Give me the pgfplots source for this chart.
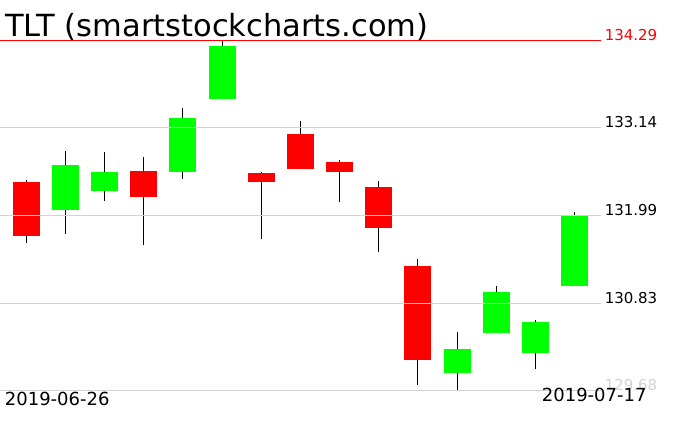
\documentclass[border=0pt]{standalone}
\usepackage{pgfplots}
\pgfplotsset{compat=1.18}
\usepackage{fontspec}
\setmainfont{DejaVu Sans}
\definecolor{cgreen}{RGB}{0,255,0}
\definecolor{cred}{RGB}{255,0,0}
\definecolor{cgrid}{RGB}{211,211,211}
\begin{document}
\begin{tikzpicture}
\begin{axis}[at={(0,0)}, anchor=south west, scale only axis,
  width=676pt, height=431pt,
  xmin=0.3367, xmax=17.582, ymin=129.151, ymax=134.816,
  hide axis, clip=false, unbounded coords=jump]
% wicks (low, high)
\addplot[black, line width=1pt] coordinates {
 (1,131.62) (1,132.45) (1,nan)
 (2,131.74) (2,132.83) (2,nan)
 (3,132.18) (3,132.82) (3,nan)
 (4,131.59) (4,132.75) (4,nan)
 (5,132.46) (5,133.40) (5,nan)
 (6,133.51) (6,134.29) (6,nan)
 (7,131.67) (7,132.56) (7,nan)
 (8,132.60) (8,133.23) (8,nan)
 (9,132.16) (9,132.71) (9,nan)
 (10,131.51) (10,132.44) (10,nan)
 (11,129.76) (11,131.41) (11,nan)
 (12,129.69) (12,130.45) (12,nan)
 (13,130.44) (13,131.06) (13,nan)
 (14,129.96) (14,130.61) (14,nan)
 (15,131.06) (15,132.03)
};
% red bodies (open, close)
\addplot[cred, line width=27pt] coordinates {
 (1,132.42) (1,131.71) (1,nan)
 (4,132.57) (4,132.23) (4,nan)
 (7,132.54) (7,132.43) (7,nan)
 (8,133.06) (8,132.60) (8,nan)
 (9,132.69) (9,132.56) (9,nan)
 (10,132.36) (10,131.82) (10,nan)
 (11,131.32) (11,130.08)
};
% green bodies (open, close)
\addplot[cgreen, line width=27pt] coordinates {
 (2,132.05) (2,132.65) (2,nan)
 (3,132.31) (3,132.56) (3,nan)
 (5,132.56) (5,133.27) (5,nan)
 (6,133.52) (6,134.21) (6,nan)
 (12,129.91) (12,130.23) (12,nan)
 (13,130.44) (13,130.98) (13,nan)
 (14,130.17) (14,130.58) (14,nan)
 (15,131.06) (15,131.98)
};
% grid lines
\addplot[cgrid, line width=1pt] coordinates {(0.3367,133.14) (15.668,133.14)};
\addplot[cgrid, line width=1pt] coordinates {(0.3367,131.99) (15.668,131.99)};
\addplot[cgrid, line width=1pt] coordinates {(0.3367,130.83) (15.668,130.83)};
\addplot[cgrid, line width=1pt] coordinates {(0.3367,129.68) (15.668,129.68)};
\addplot[cred, line width=1pt] coordinates {(0.3367,134.29) (15.668,134.29)};
% labels
\node[anchor=base west, inner sep=0pt, text=cred, font=\fontsize{15}{15}\selectfont] at (axis cs:15.76,134.29) {134.29};
\node[anchor=base west, inner sep=0pt, text=black, font=\fontsize{15}{15}\selectfont] at (axis cs:15.76,133.14) {133.14};
\node[anchor=base west, inner sep=0pt, text=black, font=\fontsize{15}{15}\selectfont] at (axis cs:15.76,131.99) {131.99};
\node[anchor=base west, inner sep=0pt, text=black, font=\fontsize{15}{15}\selectfont] at (axis cs:15.76,130.83) {130.83};
\node[anchor=base west, inner sep=0pt, text=cgrid, font=\fontsize{15}{15}\selectfont] at (axis cs:15.76,129.68) {129.68};
\node[anchor=base west, inner sep=0pt, text=black, font=\fontsize{18}{18}\selectfont] at (axis cs:0.457,129.48) {2019-06-26};
\node[anchor=base west, inner sep=0pt, text=black, font=\fontsize{18}{18}\selectfont] at (axis cs:14.156,129.545) {2019-07-17};
\node[anchor=base west, inner sep=0pt, text=black, font=\fontsize{30.5}{30.5}\selectfont] at (axis cs:0.464,134.33) {TLT (smartstockcharts.com)};
\end{axis}
\pgfresetboundingbox
\path[use as bounding box] (0,0) rectangle (676pt,431pt);
\end{tikzpicture}
\end{document}
